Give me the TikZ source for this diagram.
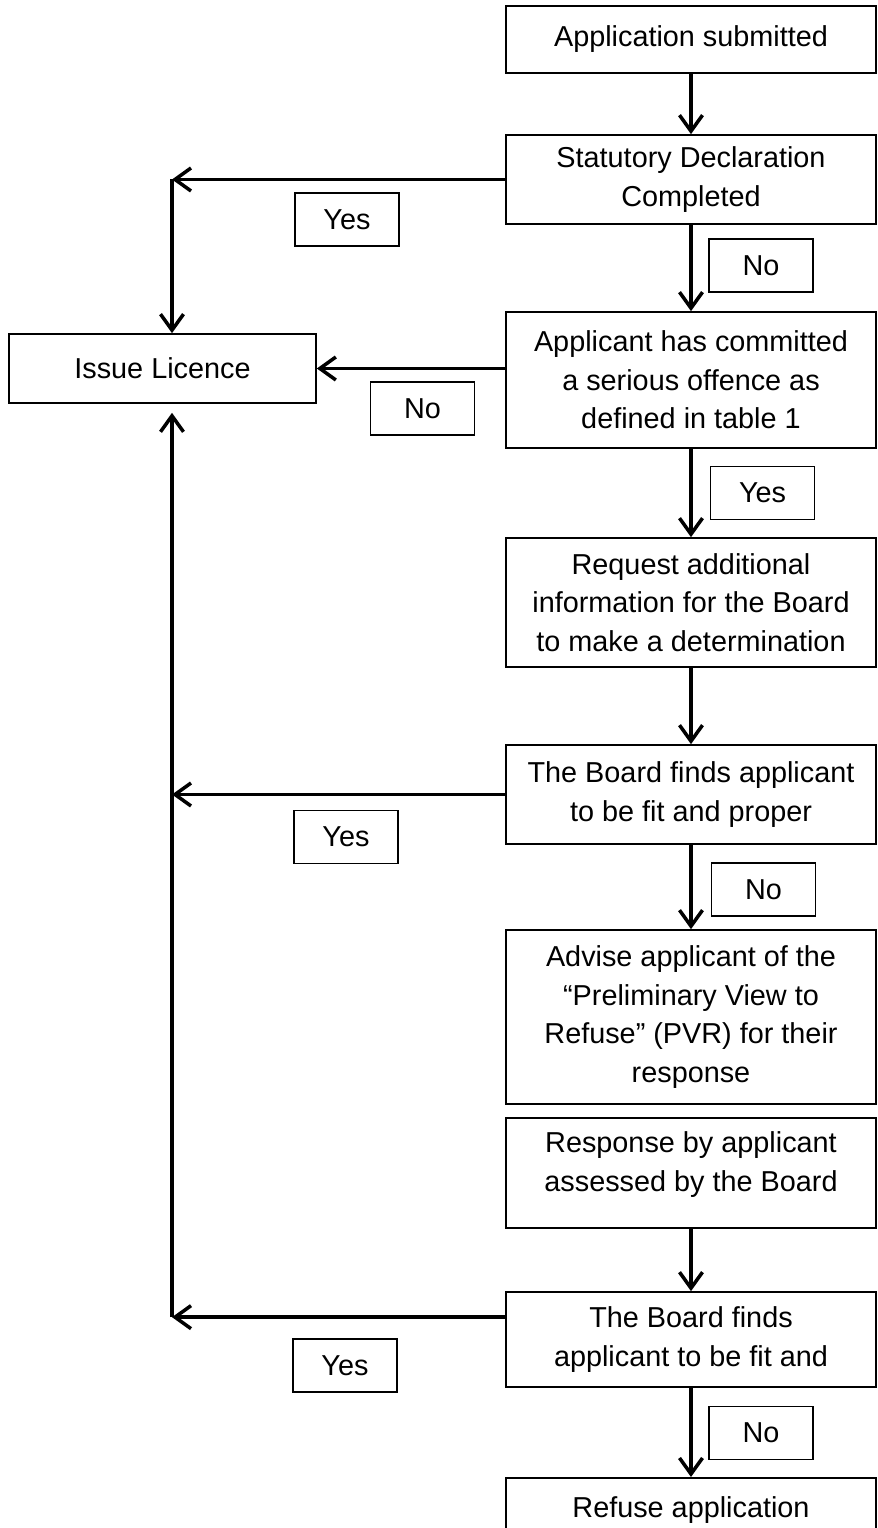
\documentclass[tikz,border=0pt]{standalone}
\usepackage{fontspec}
\setmainfont{Liberation Sans}
\usetikzlibrary{arrows.meta,positioning}

\begin{document}
\begin{tikzpicture}[
  box/.style={draw, line width=0.95pt, minimum width=7.4cm, align=center, font=\fontsize{16.4}{22}\selectfont},
  lbl/.style={draw, line width=0.95pt, minimum width=2.08cm, minimum height=1.06cm, font=\fontsize{16.4}{22}\selectfont},
  arr/.style={-{Straight Barb[length=0.32cm,width=0.46cm]}, line width=2pt}]
  \useasboundingbox (0,0) rectangle (17.56,30.56);

  % main column
  \node[box, minimum height=1.34cm] (submitted) at (13.82,29.77) {Application submitted};
  \node[box, minimum height=1.78cm] (declaration) at (13.82,26.97) {Statutory Declaration\\Completed};
  \node[box, minimum height=2.72cm] (offence) at (13.82,22.96) {Applicant has committed\\a serious offence as\\defined in table 1};
  \node[box, minimum height=2.58cm] (request) at (13.82,18.51) {Request additional\\information for the Board\\to make a determination};
  \node[box, minimum height=1.98cm] (fit1) at (13.82,14.67) {The Board finds applicant\\to be fit and proper};
  \node[box, minimum height=3.48cm] (advise) at (13.82,10.22) {Advise applicant of the\\“Preliminary View to\\Refuse” (PVR) for their\\response};
  \node[box, minimum height=2.20cm, text depth=0.45cm] (response) at (13.82,7.10) {Response by applicant\\assessed by the Board};
  \node[box, minimum height=1.90cm] (fit2) at (13.82,3.77) {The Board finds\\applicant to be fit and};
  \node[box, minimum height=1.28cm, anchor=north] (refuse) at (13.82,1.02) {Refuse application};

  % outcome
  \node[box, minimum width=6.14cm, minimum height=1.38cm] (licence) at (3.25,23.19) {Issue Licence};

  % answers
  \node[lbl] (yes1) at (6.94,26.17) {Yes};
  \node[lbl] (no1) at (15.22,25.25) {No};
  \node[lbl] (no2) at (8.45,22.39) {No};
  \node[lbl] (yes2) at (15.25,20.70) {Yes};
  \node[lbl] (yes3) at (6.92,13.82) {Yes};
  \node[lbl] (no3) at (15.27,12.77) {No};
  \node[lbl] (yes4) at (6.90,3.25) {Yes};
  \node[lbl] (no4) at (15.22,1.90) {No};

  % downward flow
  \draw[arr] (submitted) -- (declaration);
  \draw[arr] (declaration) -- (offence);
  \draw[arr] (offence) -- (request);
  \draw[arr] (request) -- (fit1);
  \draw[arr] (fit1) -- (advise);
  \draw[arr] (response) -- (fit2);
  \draw[arr] (fit2) -- (refuse);

  % back to the licence
  \coordinate (spine) at (3.44,0);
  \coordinate (fit2out) at ([yshift=-0.52cm]fit2.north west);
  \draw[arr] (declaration.west) -- (declaration.west -| spine);
  \draw[arr] (declaration.west -| spine) -- (spine |- licence.north);
  \draw[arr] (offence.west |- licence.east) -- (licence.east);
  \draw[arr] (fit1.west) -- (fit1.west -| spine);
  \draw[arr] (fit2out) -- (fit2out -| spine);
  \draw[arr, shorten >=0.18cm] (fit2out -| spine) -- (spine |- licence.south);
\end{tikzpicture}
\end{document}
